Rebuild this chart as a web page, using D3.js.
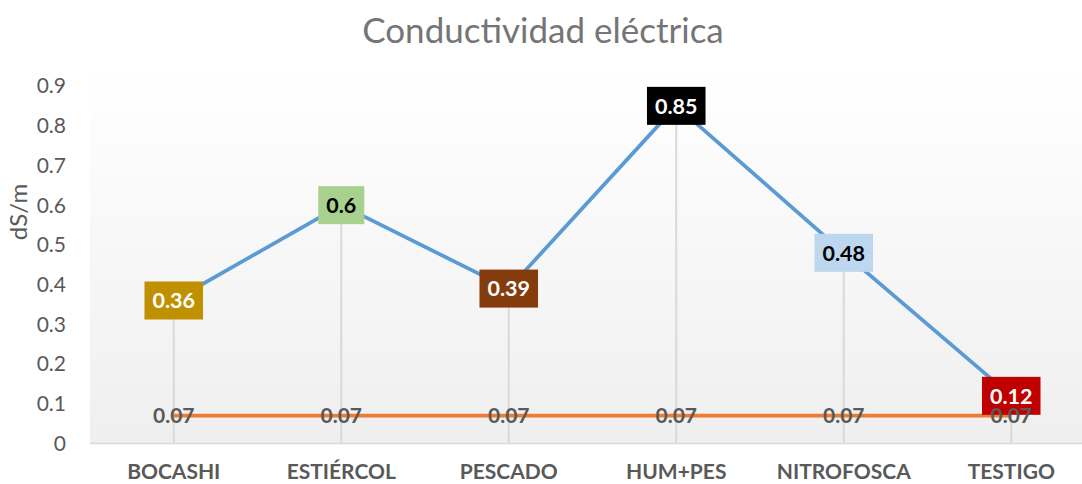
<!DOCTYPE html>
<html lang="es">
<head>
<meta charset="UTF-8">
<script src="https://cdn.jsdelivr.net/npm/d3@7"></script>
<title>Conductividad eléctrica</title>
<style>
    body { margin: 0; padding: 0; background: #fff; }
    svg { display: block; font-family: Lato, "Open Sans", sans-serif; }
</style>
</head>
<body>
<div id="chart"></div>
<script>
const categories = ["BOCASHI", "ESTIÉRCOL", "PESCADO", "HUM+PES", "NITROFOSCA", "TESTIGO"];
const tratamientos = [0.36, 0.6, 0.39, 0.85, 0.48, 0.12];
const referencia = [0.07, 0.07, 0.07, 0.07, 0.07, 0.07];
const labelColors = ["#bf9000", "#a9d18e", "#843c0c", "#000000", "#bdd7ee", "#c00000"];
const labelText = ["#fff", "#000", "#fff", "#fff", "#000", "#fff"];
const yTicks = [0, 0.1, 0.2, 0.3, 0.4, 0.5, 0.6, 0.7, 0.8, 0.9];

const W = 1082, H = 484;
const plotL = 90, plotR = 1095, plotT = 70, plotB = 443.5;

const svg = d3.select("#chart").append("svg").attr("width", W).attr("height", H);

const x = d3.scaleBand().domain(categories).range([plotL, plotR]);
const y = d3.scaleLinear().domain([0, 0.9]).range([plotB, 86]);
const cx = c => x(c) + x.bandwidth() / 2;

// plot area gradient
const grad = svg.append("defs").append("linearGradient")
    .attr("id", "bg").attr("x1", 0).attr("y1", 0).attr("x2", 0).attr("y2", 1);
grad.append("stop").attr("offset", "0%").attr("stop-color", "#ffffff");
grad.append("stop").attr("offset", "100%").attr("stop-color", "#efefef");
svg.append("rect").attr("x", plotL).attr("y", plotT)
    .attr("width", plotR - plotL).attr("height", plotB - plotT)
    .attr("fill", "url(#bg)");

// title
svg.append("text").attr("x", 543).attr("y", 43).attr("text-anchor", "middle")
    .attr("font-size", 35).attr("fill", "#757575").text("Conductividad eléctrica");

// y axis label
svg.append("text").attr("transform", "translate(27,212) rotate(-90)")
    .attr("text-anchor", "middle").attr("font-size", 24).attr("fill", "#595959").text("dS/m");

// y tick labels
svg.append("g").selectAll("text").data(yTicks).join("text")
    .attr("x", 66).attr("y", d => y(d)).attr("dy", "0.35em")
    .attr("text-anchor", "end").attr("font-size", 21).attr("fill", "#595959")
    .text(d => d);

// drop lines
svg.append("g").selectAll("line").data(categories).join("line")
    .attr("x1", d => cx(d)).attr("x2", d => cx(d))
    .attr("y1", (d, i) => y(Math.max(tratamientos[i], referencia[i])))
    .attr("y2", plotB)
    .attr("stroke", "#d9d9d9").attr("stroke-width", 2);

// x axis line
svg.append("line").attr("x1", plotL).attr("x2", plotR).attr("y1", plotB).attr("y2", plotB)
    .attr("stroke", "#d9d9d9").attr("stroke-width", 1.5);

// category labels
svg.append("g").selectAll("text").data(categories).join("text")
    .attr("x", d => cx(d)).attr("y", 479)
    .attr("text-anchor", "middle").attr("font-size", 21).attr("font-weight", "bold")
    .attr("fill", "#595959").text(d => d);

const line = d3.line().x((d, i) => cx(categories[i])).y(d => y(d));

svg.append("path").datum(tratamientos).attr("d", line)
    .attr("fill", "none").attr("stroke", "#5b9bd5").attr("stroke-width", 3.75)
    .attr("stroke-linejoin", "round");
svg.append("path").datum(referencia).attr("d", line)
    .attr("fill", "none").attr("stroke", "#ed7d31").attr("stroke-width", 3.75)
    .attr("stroke-linejoin", "round");

// blue series labels in coloured boxes
const lbl = svg.append("g").selectAll("g").data(tratamientos).join("g")
    .attr("transform", (d, i) => `translate(${cx(categories[i])},${y(d)})`);
lbl.append("text")
    .attr("text-anchor", "middle").attr("dy", "0.36em")
    .attr("font-size", 21.5).attr("font-weight", "bold")
    .attr("fill", (d, i) => labelText[i]).text(d => d);
lbl.each(function(d, i) {
    const g = d3.select(this);
    const b = g.select("text").node().getBBox();
    const w = b.width + 16, h = 38;
    g.insert("rect", "text").attr("x", -w / 2).attr("y", -h / 2)
        .attr("width", w).attr("height", h)
        .attr("fill", labelColors[i]);
});

// orange series labels
svg.append("g").selectAll("text").data(referencia).join("text")
    .attr("x", (d, i) => cx(categories[i])).attr("y", d => y(d)).attr("dy", "0.36em")
    .attr("text-anchor", "middle").attr("font-size", 21).attr("font-weight", "bold")
    .attr("fill", "#595959").text(d => d);
</script>
</body>
</html>
